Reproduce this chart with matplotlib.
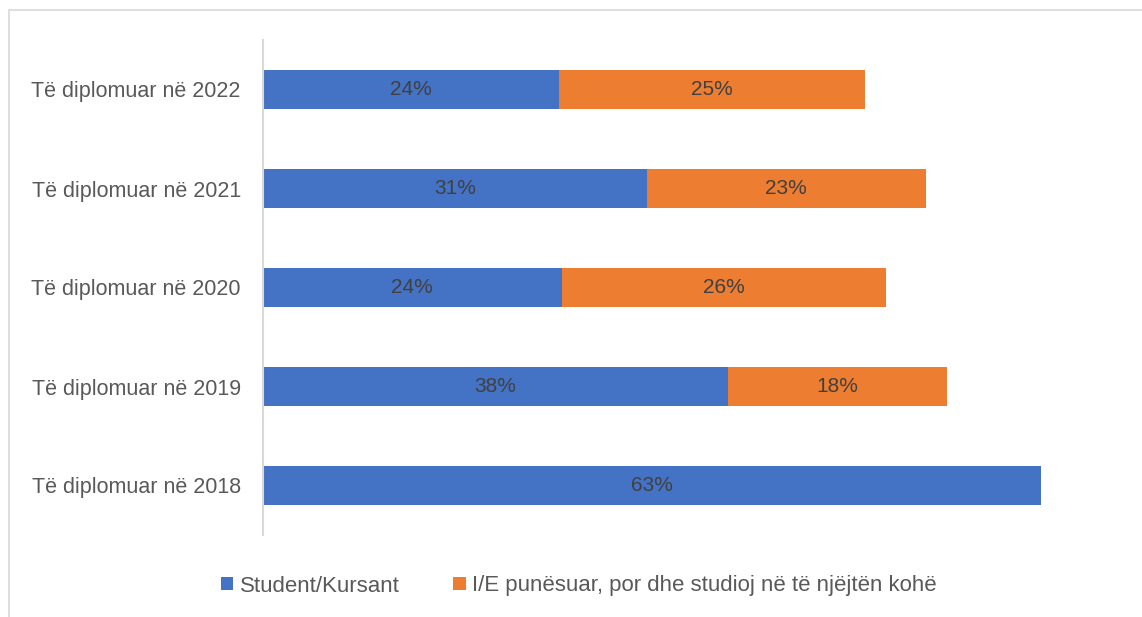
import matplotlib.pyplot as plt
import matplotlib.patches as mpatches

plt.rcParams['font.family'] = ['Liberation Sans', 'DejaVu Sans']

categories = ['Të diplomuar në 2018', 'Të diplomuar në 2019', 'Të diplomuar në 2020',
              'Të diplomuar në 2021', 'Të diplomuar në 2022']
student = [63.0, 37.7, 24.2, 31.1, 24.0]
punesuar = [0, 17.7, 26.3, 22.6, 24.8]
series_names = ['Student/Kursant', 'I/E punësuar, por dhe studioj në të njëjtën kohë']

blue = '#4472C4'
orange = '#ED7D31'

fig = plt.figure(figsize=(11.42, 6.17), dpi=100)
ax = fig.add_axes([263 / 1142, 1 - 535 / 617, (1127 - 263) / 1142, 495 / 617])

y = range(len(categories))
b1 = ax.barh(y, student, height=0.4, color=blue, label=series_names[0])
b2 = ax.barh(y, punesuar, height=0.4, left=student, color=orange, label=series_names[1])

for i in y:
    ax.text(student[i] / 2, i, f'{student[i]:.0f}%', ha='center', va='center',
            fontsize=15, color='#404040')
    if punesuar[i] > 0:
        ax.text(student[i] + punesuar[i] / 2, i, f'{punesuar[i]:.0f}%', ha='center',
                va='center', fontsize=15, color='#404040')

ax.set_xlim(0, 70)
ax.set_ylim(-0.5, len(categories) - 0.5)
ax.set_yticks(list(y))
ax.set_yticklabels(categories, fontsize=15.5, color='#595959')
ax.tick_params(axis='y', length=0, pad=16)
ax.set_xticks([])
for s in ['top', 'right', 'bottom']:
    ax.spines[s].set_visible(False)
ax.spines['left'].set_color('#D9D9D9')
ax.spines['left'].set_linewidth(1.5)

fig.legend(handles=[b1, b2], loc='center', bbox_to_anchor=(0.5 + 8 / 1142, 1 - 586 / 617),
           ncol=2, frameon=False, fontsize=16, labelcolor='#595959',
           handlelength=0.55, handleheight=0.55, handletextpad=0.3, columnspacing=2.4)

# chart area border
fig.patches.append(mpatches.Rectangle((9 / 1142, -0.1), 1.2, 1 - 10 / 617 + 0.1,
                                      transform=fig.transFigure, fill=False,
                                      edgecolor='#D9D9D9', linewidth=1.2))

fig.savefig('out.png', dpi=100)
